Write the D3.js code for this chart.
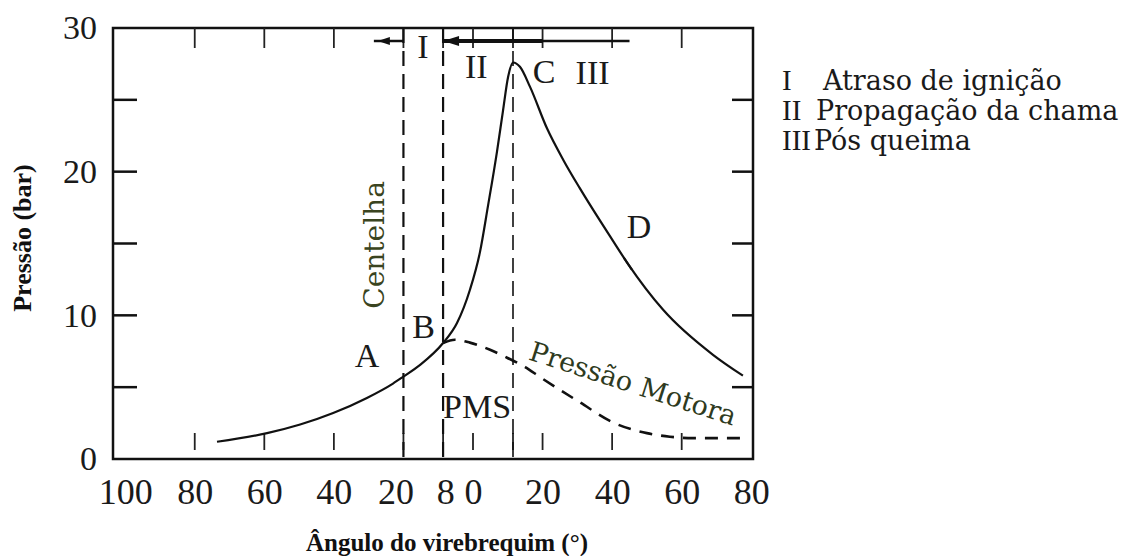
<!DOCTYPE html>
<html>
<head>
<meta charset="utf-8">
<script src="https://cdn.jsdelivr.net/npm/d3@7"></script>
<style>
  body { margin: 0; background: #fff; }
  svg { display: block; }
  .num { font-family: "Liberation Serif", serif; fill: #1a1a1a; }
  .word { font-family: "DejaVu Serif", serif; fill: #1a1a1a; }
  .title { font-family: "Liberation Serif", serif; font-weight: bold; fill: #111; }
</style>
</head>
<body>
<div id="chart"></div>
<script>
// pressure trace of a spark-ignition engine
const firedAngle    = [-73.6, -59.2, -49.7, -40.2, -30.5, -23, -20.1, -15.2, -8.6, -4.6, -0.9, 2.0, 4.3, 6.9, 8.6, 10.1, 11.5, 13.5, 16.4, 21.3, 26, 30.7, 40.2, 44.5, 54.6, 69, 77.6];
const firedPressure = [1.2, 1.8, 2.4, 3.2, 4.25, 5.25, 5.72, 6.55, 8.07, 9.46, 11.76, 14.4, 17.6, 21.4, 24.2, 26.6, 27.6, 27.3, 25.9, 23.0, 20.8, 18.85, 15.2, 13.6, 10.4, 7.25, 5.8];

const motoredAngle    = [-8.6, -5.2, -0.9, 4.9, 9.8, 15, 19.3, 30.7, 40.2, 50, 56.6, 63.2, 77.6];
const motoredPressure = [8.07, 8.3, 8.1, 7.6, 7.05, 6.4, 5.7, 3.95, 2.55, 1.8, 1.55, 1.45, 1.45];

// spark (A), start of combustion (B), peak pressure (C)
const eventAngles = [-20, -8.6, 11.5];

const xTickValues = [-100, -80, -60, -40, -20, -8, 0, 20, 40, 60, 80];
const xTickLabels = ["100", "80", "60", "40", "20", "8", "0", "20", "40", "60", "80"];
const xMarkValues = [-80, -60, -40, -20, -8.6, 0, 11.5, 20, 40, 60];
const yTickValues = [0, 10, 20, 30];
const yMarkValues = [5, 10, 15, 20, 25];

const phaseNames = ["I", "II", "III"];
const phaseText  = ["Atraso de ignição", "Propagação da chama", "Pós queima"];

const width = 1145, height = 556;
const x = d3.scaleLinear().domain([-103.5, 80.5]).range([113, 753]);
const y = d3.scaleLinear().domain([0, 30]).range([459, 28]);

const svg = d3.select("#chart").append("svg")
    .attr("width", width)
    .attr("height", height);

const [x0, x1] = x.range();
const [y0, y1] = y.range();

// frame
svg.append("rect")
    .attr("x", x0).attr("y", y1)
    .attr("width", x1 - x0).attr("height", y0 - y1)
    .attr("fill", "none")
    .attr("stroke", "#111")
    .attr("stroke-width", 2.5);

// inward ticks left / right
svg.selectAll("line.ytick").data(yMarkValues).enter().append("line")
    .attr("class", "ytick")
    .attr("x1", x0).attr("x2", x0 + 24)
    .attr("y1", d => y(d)).attr("y2", d => y(d))
    .attr("stroke", "#111").attr("stroke-width", 2.5);
svg.selectAll("line.ytickr").data(yMarkValues).enter().append("line")
    .attr("class", "ytickr")
    .attr("x1", x1 - 21).attr("x2", x1)
    .attr("y1", d => y(d)).attr("y2", d => y(d))
    .attr("stroke", "#111").attr("stroke-width", 2.5);

// ticks top / bottom
svg.selectAll("line.xtickt").data(xMarkValues).enter().append("line")
    .attr("class", "xtickt")
    .attr("x1", d => x(d)).attr("x2", d => x(d))
    .attr("y1", y1).attr("y2", y1 + 20)
    .attr("stroke", "#222").attr("stroke-width", 1.8);
svg.selectAll("line.xtickb").data(xMarkValues).enter().append("line")
    .attr("class", "xtickb")
    .attr("x1", d => x(d)).attr("x2", d => x(d))
    .attr("y1", y0 - 9).attr("y2", y0 - 26)
    .attr("stroke", "#222").attr("stroke-width", 1.8);

// axis labels
const xAxis = svg.append("g")
    .attr("transform", "translate(0," + y0 + ")")
    .call(d3.axisBottom(x).tickValues(xTickValues).tickSize(0).tickPadding(19)
        .tickFormat((d, i) => xTickLabels[i]));
xAxis.select(".domain").remove();
xAxis.selectAll("text")
    .attr("class", "num")
    .style("font-size", "36px")
    .attr("dx", d => d === -20 ? -8 : 0);

const yAxis = svg.append("g")
    .attr("transform", "translate(" + x0 + ",0)")
    .call(d3.axisLeft(y).tickValues(yTickValues).tickSize(0).tickPadding(16));
yAxis.select(".domain").remove();
yAxis.selectAll("text")
    .attr("class", "num")
    .style("font-size", "34px");

// vertical event lines
svg.selectAll("line.event").data(eventAngles).enter().append("line")
    .attr("class", "event")
    .attr("x1", d => x(d)).attr("x2", d => x(d))
    .attr("y1", y1).attr("y2", y0)
    .attr("stroke", "#111")
    .attr("stroke-width", (d, i) => i === 2 ? 1.6 : 2.2)
    .attr("stroke-dasharray", "15,8");

// curves
const line = d3.line()
    .x(d => x(d[0]))
    .y(d => y(d[1]))
    .curve(d3.curveMonotoneX);

const fired = firedAngle.map((a, i) => [a, firedPressure[i]]);
const motored = motoredAngle.map((a, i) => [a, motoredPressure[i]]);

svg.append("path")
    .datum(motored)
    .attr("d", line)
    .attr("fill", "none")
    .attr("stroke", "#111")
    .attr("stroke-width", 2.6)
    .attr("stroke-dasharray", "13,9");

svg.append("path")
    .datum(fired)
    .attr("d", line)
    .attr("fill", "none")
    .attr("stroke", "#111")
    .attr("stroke-width", 2.2);

// small mark at D
const dAngle = firedAngle[23], dP = firedPressure[23];
svg.append("line")
    .attr("x1", x(dAngle) - 4).attr("x2", x(dAngle) + 4)
    .attr("y1", y(dP) - 6).attr("y2", y(dP) + 6)
    .attr("stroke", "#111").attr("stroke-width", 2);

// phase arrows along the top
const arrowY = 41;
svg.append("line")
    .attr("x1", x(-28.5)).attr("x2", x(eventAngles[0]))
    .attr("y1", arrowY).attr("y2", arrowY)
    .attr("stroke", "#111").attr("stroke-width", 2.5);
svg.append("path")
    .attr("d", "M" + (x(-28.5) + 4) + "," + arrowY + "l12,-4v8z")
    .attr("fill", "#111");
svg.append("line")
    .attr("x1", x(eventAngles[1])).attr("x2", x(45))
    .attr("y1", arrowY).attr("y2", arrowY)
    .attr("stroke", "#111").attr("stroke-width", 2.5);
svg.append("line")
    .attr("x1", x(eventAngles[1])).attr("x2", x(20))
    .attr("y1", arrowY).attr("y2", arrowY)
    .attr("stroke", "#111").attr("stroke-width", 4);
svg.append("path")
    .attr("d", "M" + x(eventAngles[1]) + "," + arrowY + "l16,-5v10z")
    .attr("fill", "#111");

// point labels
const letters = [
    {t: "I", a: -16, p: 27.9},
    {t: "II", a: -2.3, p: 26.5},
    {t: "C", a: 17.2, p: 26.2},
    {t: "III", a: 29.5, p: 26.1},
    {t: "D", a: 44.2, p: 15.4},
    {t: "A", a: -34, p: 6.4},
    {t: "B", a: -17.5, p: 8.4},
    {t: "PMS", a: -8.6, p: 2.85}
];
svg.selectAll("text.letter").data(letters).enter().append("text")
    .attr("class", "num letter")
    .attr("x", d => x(d.a))
    .attr("y", d => y(d.p))
    .style("font-size", "34px")
    .text(d => d.t);

// rotated annotations
svg.append("text")
    .attr("class", "word")
    .attr("transform", "translate(" + (x(-20) - 19) + "," + y(14.9) + ") rotate(-90)")
    .attr("text-anchor", "middle")
    .style("font-size", "28px")
    .style("fill", "#3a4420")
    .text("Centelha");

svg.append("text")
    .attr("class", "word")
    .attr("transform", "translate(" + x(15.7) + "," + y(6.95) + ") rotate(18)")
    .style("font-size", "27px")
    .style("fill", "#2e3a20")
    .text("Pressão Motora");

// legend
const legend = svg.append("g").attr("transform", "translate(782,90)");
legend.selectAll("text.nm").data(phaseNames).enter().append("text")
    .attr("class", "num nm")
    .attr("x", 0)
    .attr("y", (d, i) => i * 30)
    .style("font-size", "29px")
    .text(d => d);
legend.selectAll("text.tx").data(phaseText).enter().append("text")
    .attr("class", "word tx")
    .attr("x", (d, i) => [41, 34, 32][i])
    .attr("y", (d, i) => i * 30)
    .style("font-size", "27px")
    .text(d => d);

// axis titles
svg.append("text")
    .attr("class", "title")
    .attr("x", 447).attr("y", 551)
    .attr("text-anchor", "middle")
    .style("font-size", "25px")
    .text("Ângulo do virebrequim (°)");

svg.append("text")
    .attr("class", "title")
    .attr("transform", "translate(31,238) rotate(-90)")
    .attr("text-anchor", "middle")
    .style("font-size", "26px")
    .text("Pressão (bar)");
</script>
</body>
</html>
